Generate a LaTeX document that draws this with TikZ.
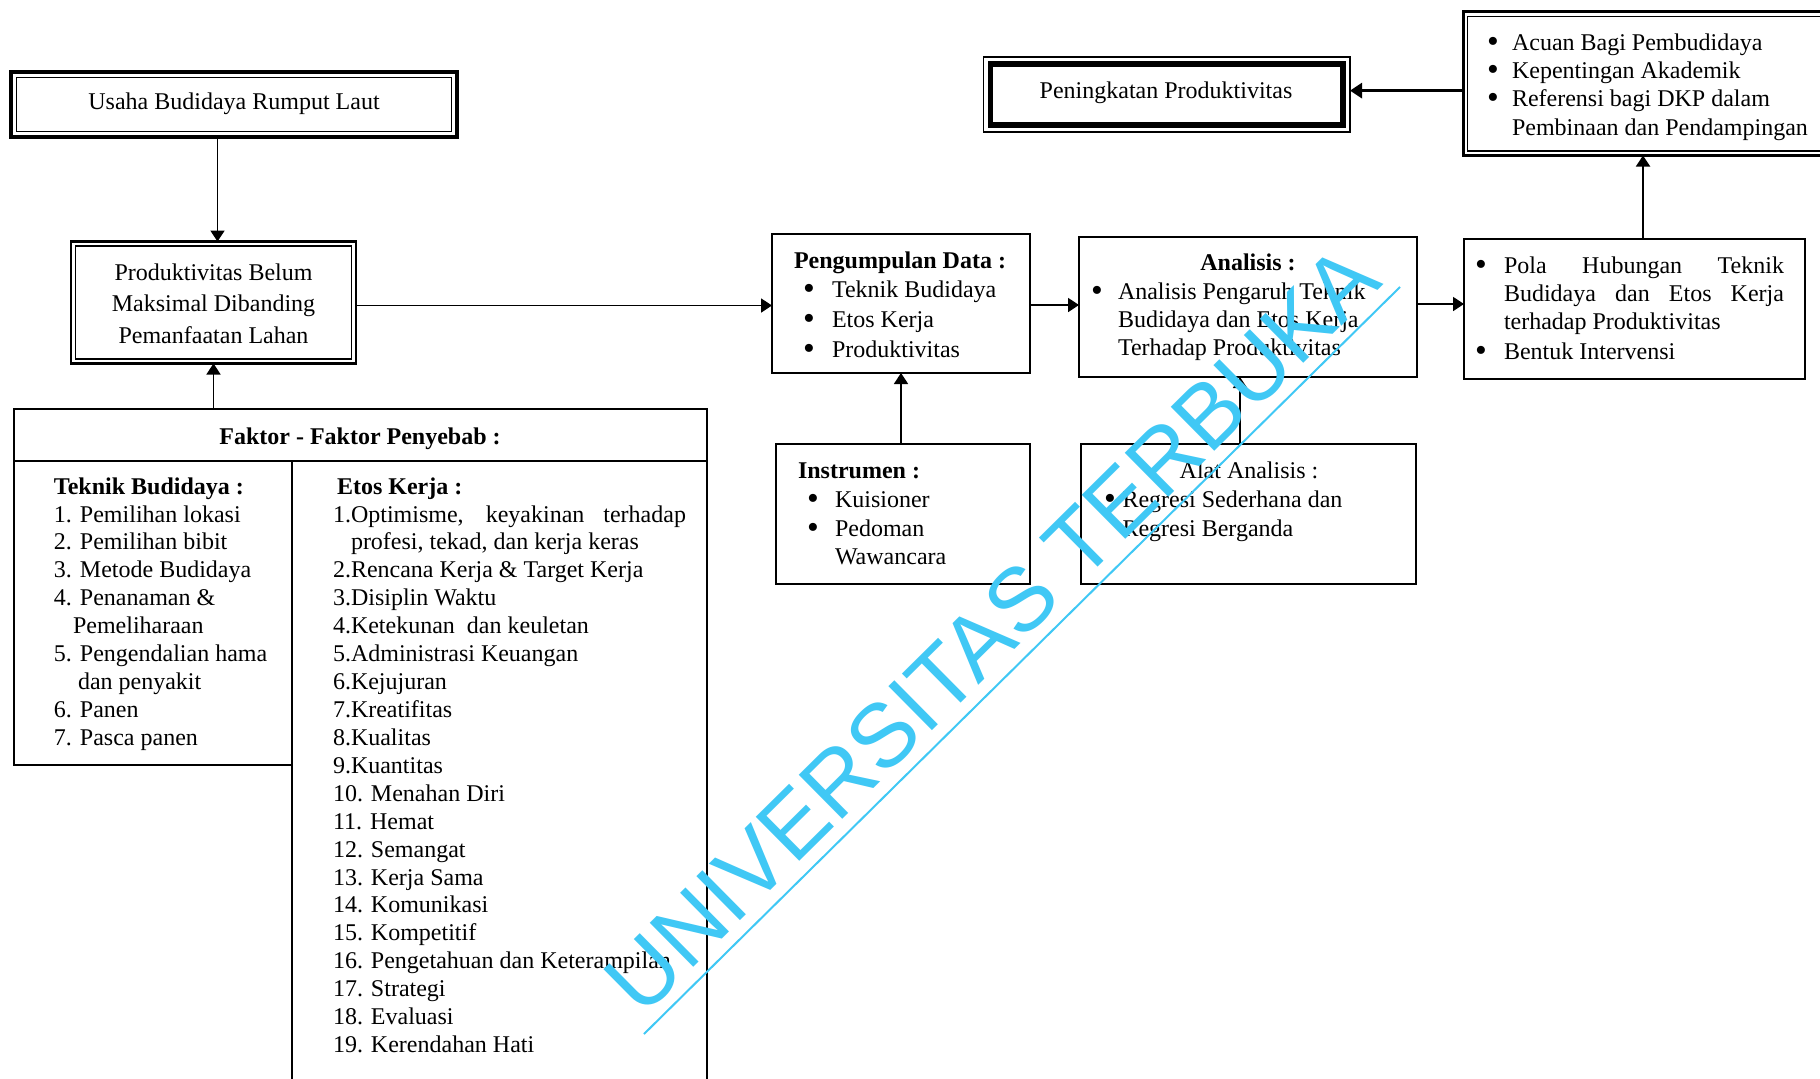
\documentclass[tikz,border=0pt]{standalone}
\usepackage{fontspec}
\setmainfont{Liberation Serif}
\newfontfamily\wmfont{Liberation Sans}
\usetikzlibrary{arrows.meta,fit}
\definecolor{wmcyan}{RGB}{64,200,245}
\newcommand\mybul{\raisebox{-0.1em}{\scalebox{1.4}{\textbullet}}}
\begin{document}
\begin{tikzpicture}[x=0.5pt,y=-0.5pt,
  box/.style={draw, line width=0.8pt, inner sep=0pt, outer sep=0pt},
  txt/.style={anchor=base west, inner sep=0pt, outer sep=0pt, font=\fontsize{12}{14}\selectfont},
  ctxt/.style={anchor=base, inner sep=0pt, outer sep=0pt, font=\fontsize{12}{14}\selectfont},
  arr/.style={line width=0.9pt, -{Triangle[length=5.5pt,width=7pt]}},
  arrbig/.style={line width=1.4pt, -{Triangle[length=6pt,width=7.5pt]}},
]
\useasboundingbox (0,0) rectangle (1820,1078);
\clip (0,0) rectangle (1820,1078);
\fill[white] (0,0) rectangle (1820,1078);

% ---------- boxes ----------
\node[box, line width=1.6pt, fit={(11,72) (457,137)}] (usaha) {};
\draw[line width=0.6pt] ([shift={(5.5,5.5)}]usaha.north west) rectangle ([shift={(-5.5,-5.5)}]usaha.south east);

\node[box, line width=1.4pt, fit={(71,241.5) (356,363.5)}] (prod) {};
\draw[line width=0.7pt] ([shift={(4.5,4.5)}]prod.north west) rectangle ([shift={(-4.5,-4.5)}]prod.south east);

\node[box, line width=0.6pt, fit={(983.5,57) (1350,132)}] (pen) {};
\draw[line width=2.6pt] ([shift={(7,7)}]pen.north west) rectangle ([shift={(-7,-7)}]pen.south east);

\node[box, line width=1.5pt, fit={(1463,11.7) (1828,155.5)}] (acuan) {};
\draw[line width=0.6pt] ([shift={(4.5,4.5)}]acuan.north west) rectangle ([shift={(-4.5,-4.5)}]acuan.south east);

\node[box, fit={(772,234) (1030,373)}] (peng) {};
\node[box, fit={(1079,237) (1417,377)}] (anal) {};
\node[box, fit={(1464,239) (1805,379)}] (pola) {};
\node[box, fit={(776,444) (1030,584)}] (inst) {};
\node[box, fit={(1081,444) (1416,584)}] (alat) {};

\node[box, line width=0.9pt, fit={(14,409) (707,461)}] (fhead) {};
\node[box, line width=0.9pt, fit={(14,461) (292,765)}] (fleft) {};
\node[box, line width=0.9pt, fit={(292,461) (707,1095)}] (fright) {};

% ---------- connectors ----------
\draw[arr] ([xshift=-8.25pt]usaha.south) -- ([xshift=-8.25pt]usaha.south |- prod.north);
\draw[arr] (prod.south |- fhead.north) -- (prod.south);
\draw[arr] ([yshift=-1.5pt]prod.east) -- ([yshift=-1.5pt]prod.east -| peng.west);
\draw[arr] ([yshift=-0.75pt]peng.east) -- ([yshift=-0.75pt]peng.east -| anal.west);
\draw[arr] ([yshift=1.5pt]anal.east) -- ([yshift=1.5pt]anal.east -| pola.west);
\draw[arr] ([xshift=4.25pt]pola.north) -- ([xshift=4.25pt]pola.north |- acuan.south);
\draw[arrbig] ([yshift=-3.5pt]acuan.west) -- ([yshift=-3.5pt]acuan.west -| pen.east);
\draw[arr] ([xshift=-1pt]inst.north) -- ([xshift=-1pt]inst.north |- peng.south);
\draw[arr] ([xshift=-4.25pt]alat.north) -- ([xshift=-4.25pt]alat.north |- anal.south);

% ---------- texts ----------
\node[ctxt] (tusaha) at (234,109) {Usaha Budidaya Rumput Laut};
\node[ctxt] (tprod1) at (213.5,280) {Produktivitas Belum};
\node[ctxt] (tprod2) at (213.5,311.5) {Maksimal Dibanding};
\node[ctxt] (tprod3) at (213.5,343) {Pemanfaatan Lahan};
\node[ctxt] (tpen) at (1166,98) {Peningkatan Produktivitas};

% acuan
\node[txt] (ab1) at (1487,50) {\mybul};
\node[txt] (at1) at (1512,50) {Acuan Bagi Pembudidaya};
\node[txt] (ab2) at (1487,78.5) {\mybul};
\node[txt] (at2) at (1512,78.5) {Kepentingan Akademik};
\node[txt] (ab3) at (1487,106.5) {\mybul};
\node[txt] (at3) at (1512,106.5) {Referensi bagi DKP dalam};
\node[txt] (at4) at (1512,135) {Pembinaan dan Pendampingan};

% pengumpulan
\node[txt] (pgt) at (794,268) {\bfseries Pengumpulan Data :};
\node[txt] (pgb1) at (803,297) {\mybul};
\node[txt] (pg1) at (832,297) {Teknik Budidaya};
\node[txt] (pgb2) at (803,327) {\mybul};
\node[txt] (pg2) at (832,327) {Etos Kerja};
\node[txt] (pgb3) at (803,357) {\mybul};
\node[txt] (pg3) at (832,357) {Produktivitas};

% analisis
\node[ctxt] (ant) at (1248,270) {\bfseries Analisis :};
\node[txt] (anb1) at (1091,299) {\mybul};
\node[txt] (an1) at (1118,299) {Analisis Pengaruh Teknik};
\node[txt] (an2) at (1118,327.5) {Budidaya dan Etos Kerja};
\node[txt] (an3) at (1118,355.5) {Terhadap Produktivitas};

% pola
\node[txt] (pob1) at (1475,273.5) {\mybul};
\node[txt] (po1) at (1504,273.5) {\makebox[140pt][s]{Pola Hubungan Teknik}};
\node[txt] (po2) at (1504,301.5) {\makebox[140pt][s]{Budidaya dan Etos Kerja}};
\node[txt] (po3) at (1504,329.5) {terhadap Produktivitas};
\node[txt] (pob4) at (1475,359) {\mybul};
\node[txt] (po4) at (1504,359) {Bentuk Intervensi};

% instrumen
\node[txt] (int) at (798,478.5) {\bfseries Instrumen :};
\node[txt] (inb1) at (807,507.5) {\mybul};
\node[txt] (in1) at (835,507.5) {Kuisioner};
\node[txt] (inb2) at (807,536) {\mybul};
\node[txt] (in2) at (835,536) {Pedoman};
\node[txt] (in3) at (835,564.5) {Wawancara};

% alat analisis
\node[ctxt] (alt) at (1249,478.5) {Alat Analisis :};
\node[txt] (alb1) at (1104,507.5) {\mybul};
\node[txt] (al1) at (1122.5,507.5) {Regresi Sederhana dan};
\node[txt] (al2) at (1122.5,536) {Regresi Berganda};

% faktor
\node[ctxt] (fht) at (360,444) {\bfseries Faktor - Faktor Penyebab :};
\node[txt] (tbt) at (54,494) {\bfseries Teknik Budidaya :};
\node[txt] (tb1) at (54,522) {1. Pemilihan lokasi};
\node[txt] (tb2) at (54,549.9) {2. Pemilihan bibit};
\node[txt] (tb3) at (54,577.8) {3. Metode Budidaya};
\node[txt] (tb4) at (54,605.7) {4. Penanaman \&};
\node[txt] (tb4b) at (73,633.7) {Pemeliharaan};
\node[txt] (tb5) at (54,661.6) {5. Pengendalian hama};
\node[txt] (tb5b) at (78,689.5) {dan penyakit};
\node[txt] (tb6) at (54,717.4) {6. Panen};
\node[txt] (tb7) at (54,745.4) {7. Pasca panen};

\node[txt] (ekt) at (337,494) {\bfseries Etos Kerja :};
\node[txt] (ek1) at (333,522) {\makebox[176.5pt][s]{1.Optimisme, keyakinan terhadap}};
\node[txt] (ek1b) at (351,549.9) {profesi, tekad, dan kerja keras};
\foreach \t [count=\i from 3] in {{2.Rencana Kerja \& Target Kerja}, {3.Disiplin Waktu}, {4.Ketekunan\ \ dan keuletan}, {5.Administrasi Keuangan}, {6.Kejujuran}, {7.Kreatifitas}, {8.Kualitas}, {9.Kuantitas}, {10. Menahan Diri}, {11. Hemat}, {12. Semangat}, {13. Kerja Sama}, {14. Komunikasi}, {15. Kompetitif}, {16. Pengetahuan dan Keterampilan}, {17. Strategi}, {18. Evaluasi}, {19. Kerendahan Hati}}
  \node[txt] (ek\i) at (333,{494+\i*27.93}) {\t};

% ---------- watermark ----------
\coordinate (ulA) at (644,1034);
\coordinate (ulB) at (1400,287);
\draw[wmcyan, line width=1pt] (ulA) -- (ulB);
\node[rotate=44.7, anchor=base, inner sep=0pt, text=wmcyan, font=\wmfont\fontsize{45}{45}\selectfont] (wm) at (1013,651) {UNIVERSITAS TERBUKA};
\end{tikzpicture}
\end{document}
